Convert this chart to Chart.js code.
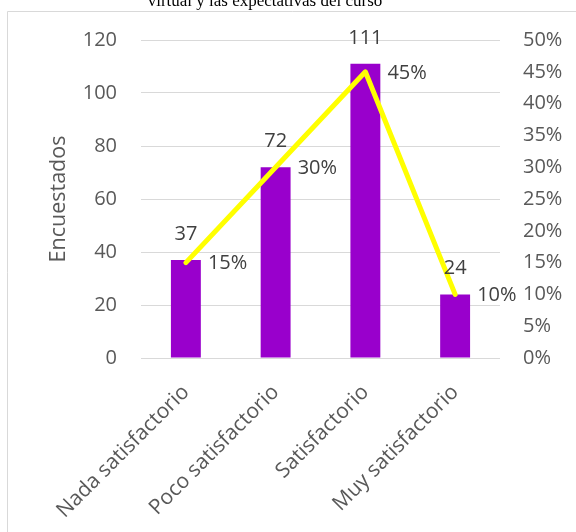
<!DOCTYPE html>
<html>
<head>
<meta charset="utf-8">
<script src="https://cdn.jsdelivr.net/npm/chart.js@4/dist/chart.umd.min.js"></script>
<style>
  html, body { margin: 0; padding: 0; background: #ffffff; }
  #wrap { width: 576px; height: 532px; position: relative; }
</style>
</head>
<body>
<div id="wrap"><canvas id="c"></canvas></div>
<script>
// Survey results: satisfaction with the virtual course
const categories = ['Nada satisfactorio', 'Poco satisfactorio', 'Satisfactorio', 'Muy satisfactorio'];
const respondents = [37, 72, 111, 24];
const percentages = [15, 30, 45, 10];
const titleText = 'virtual y las expectativas del curso';
const leftAxisTitle = 'Encuestados';

const FONT = '"Open Sans", "Noto Sans", sans-serif';
const GRID = '#d9d9d9';
const TICK = '#595959';
const LABEL = '#404040';

// Outer frame, white background and the (partly visible) title line
const framePlugin = {
  id: 'frame',
  beforeDraw(chart) {
    const ctx = chart.ctx;
    ctx.save();
    ctx.fillStyle = '#ffffff';
    ctx.fillRect(0, 0, chart.width, chart.height);
    ctx.strokeStyle = GRID;
    ctx.lineWidth = 1;
    ctx.beginPath();
    ctx.moveTo(7.5, chart.height + 2);
    ctx.lineTo(7.5, 11.5);
    ctx.lineTo(chart.width + 2, 11.5);
    ctx.stroke();
    ctx.fillStyle = '#000000';
    ctx.font = '17px "Liberation Serif", "Times New Roman", serif';
    ctx.textAlign = 'center';
    ctx.textBaseline = 'alphabetic';
    ctx.fillText(titleText, 265, 6);
    ctx.restore();
  }
};

// Value labels: counts above the bars, percentages beside the line points
const labelPlugin = {
  id: 'valueLabels',
  afterDatasetsDraw(chart) {
    const ctx = chart.ctx;
    ctx.save();
    ctx.fillStyle = LABEL;
    ctx.font = '20px ' + FONT;
    ctx.textBaseline = 'middle';
    const bars = chart.getDatasetMeta(0).data;
    bars.forEach((el, i) => {
      ctx.textAlign = 'center';
      ctx.fillText(String(respondents[i]), el.x, el.y - 26);
    });
    const pts = chart.getDatasetMeta(1).data;
    pts.forEach((el, i) => {
      ctx.textAlign = 'left';
      ctx.fillText(percentages[i] + '%', el.x + 22, el.y + 1);
    });
    ctx.restore();
  }
};

new Chart(document.getElementById('c'), {
  data: {
    labels: categories,
    datasets: [
      {
        type: 'bar',
        data: respondents,
        yAxisID: 'y',
        backgroundColor: '#9900cc',
        barPercentage: 1 / 3,
        categoryPercentage: 1,
        order: 2
      },
      {
        type: 'line',
        data: percentages,
        yAxisID: 'y1',
        borderColor: '#ffff00',
        borderWidth: 5,
        borderCapStyle: 'round',
        borderJoinStyle: 'round',
        pointRadius: 0,
        tension: 0,
        order: 1
      }
    ]
  },
  options: {
    responsive: true,
    maintainAspectRatio: false,
    animation: false,
    layout: { padding: { left: 46, top: 40, right: 0, bottom: 0 } },
    plugins: {
      legend: { display: false },
      tooltip: { enabled: false }
    },
    scales: {
      x: {
        offset: true,
        grid: { display: false },
        border: { display: false },
        ticks: {
          color: TICK,
          font: { family: FONT, size: 21 },
          minRotation: 45,
          maxRotation: 45,
          padding: 14
        },
        afterFit(scale) { scale.height = 174; }
      },
      y: {
        position: 'left',
        min: 0,
        max: 120,
        grid: { color: GRID, lineWidth: 1, drawTicks: false },
        border: { display: false },
        ticks: {
          stepSize: 20,
          color: TICK,
          font: { family: FONT, size: 20 },
          padding: 24
        },
        title: {
          display: true,
          text: leftAxisTitle,
          color: TICK,
          font: { family: FONT, size: 21.5 },
          padding: 0
        },
        afterFit(scale) { scale.width = 95; }
      },
      y1: {
        position: 'right',
        min: 0,
        max: 50,
        grid: { display: false, drawTicks: false },
        border: { display: false },
        ticks: {
          stepSize: 5,
          color: TICK,
          font: { family: FONT, size: 20 },
          padding: 23,
          callback: v => v + '%'
        },
        afterFit(scale) { scale.width = 76; }
      }
    }
  },
  plugins: [framePlugin, labelPlugin]
});
</script>
</body>
</html>
